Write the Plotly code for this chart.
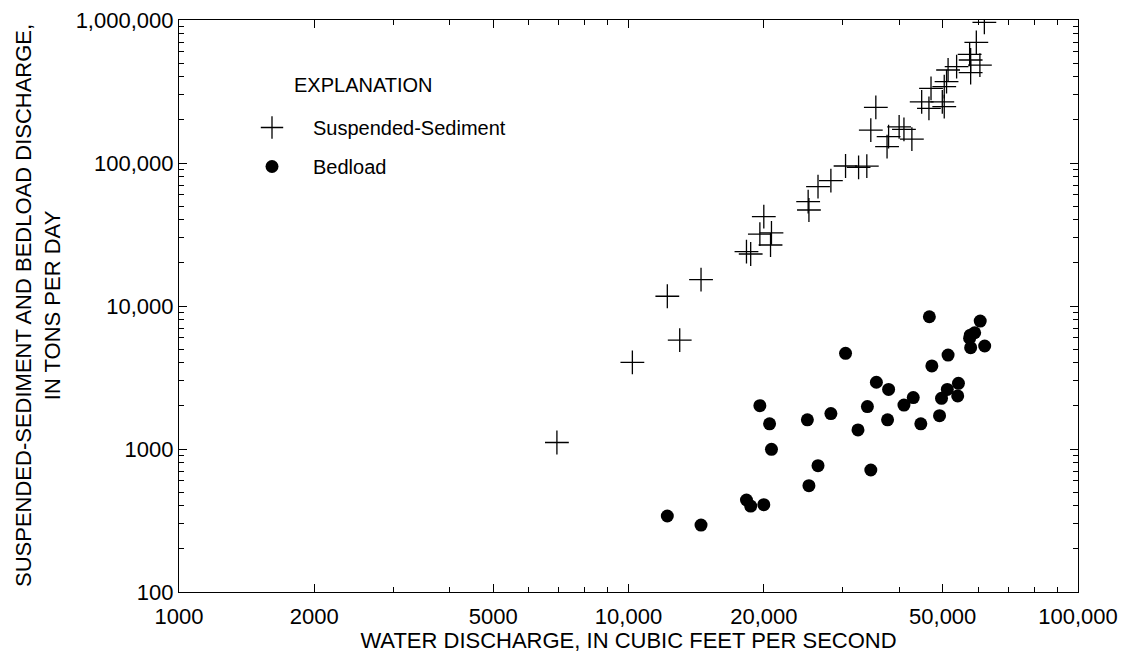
import plotly.graph_objects as go

# Suspended-sediment discharge (water discharge cfs, tons/day)
ss_q = [61900, 59400, 57400, 57700, 60500, 53700, 51400, 57700, 51000, 50400,
        47100, 44900, 46600, 49900, 50400, 35500, 34600, 40000, 41000, 37900,
        37600, 42700, 30400, 32500, 33900, 26400, 28200, 25100, 25200, 20000,
        19600, 20800, 20700, 18300, 18700, 14500, 12200, 13000, 10200, 6930]
ss_load = [964000, 698000, 575000, 525000, 484000, 472000, 447000, 428000, 371000, 342000,
           333000, 268000, 241000, 268000, 248000, 245000, 170000, 179000, 172000, 153000,
           130000, 147000, 95300, 93300, 95000, 68300, 75200, 53700, 46900, 42200,
           31800, 32500, 26700, 24000, 23100, 15300, 11700, 5780, 4040, 1110]

# Bedload discharge
bl_q = [46700, 60600, 58900, 57600, 57400, 57700, 62000, 30400, 51400, 47300,
        35600, 54200, 37900, 51200, 43000, 49700, 54000, 41000, 34000, 19600,
        28200, 25000, 37700, 20600, 44700, 49200, 32400, 20800, 26400, 34600,
        25200, 18300, 18700, 20000, 12200, 14500]
bl_load = [8410, 7850, 6500, 6250, 5950, 5110, 5250, 4670, 4540, 3810,
           2930, 2880, 2610, 2610, 2290, 2260, 2350, 2030, 1980, 2010,
           1770, 1600, 1600, 1500, 1500, 1710, 1360, 995, 765, 713,
           554, 440, 399, 408, 340, 294]

x_tickvals = [1000, 2000, 5000, 10000, 20000, 50000, 100000]
x_ticktext = ["1000", "2000", "5000", "10,000", "20,000", "50,000", "100,000"]
x_minor = [3000, 4000, 6000, 7000, 8000, 9000, 30000, 40000, 60000, 70000, 80000, 90000]
y_tickvals = [100, 1000, 10000, 100000, 1000000]
y_ticktext = ["100", "1000", "10,000", "100,000", "1,000,000"]
y_minor = [m * 10 ** e for e in range(2, 6) for m in range(2, 10)]

FONT = "Liberation Sans, Arial, Helvetica, sans-serif"

fig = go.Figure()
fig.add_trace(go.Scatter(
    x=ss_q, y=ss_load, mode="markers", name="Suspended-Sediment",
    legendgroup="a",
    marker=dict(symbol="cross-thin", size=17, color="black",
                line=dict(color="black", width=1.3)),
))
fig.add_trace(go.Scatter(
    x=bl_q, y=bl_load, mode="markers", name="Bedload",
    legendgroup="b",
    marker=dict(symbol="circle", size=13, color="black", line=dict(width=0)),
))

axis_common = dict(
    showline=True, linecolor="black", linewidth=1.2, mirror="ticks",
    ticks="inside", ticklen=8, tickcolor="black", tickwidth=1,
    showgrid=False, zeroline=False, automargin=False,
    tickfont=dict(family=FONT, size=22, color="black"),
)

fig.update_xaxes(
    type="log", range=[3, 5],
    tickvals=x_tickvals, ticktext=x_ticktext,
    minor=dict(tickvals=x_minor, ticks="inside", ticklen=5, tickcolor="black", showgrid=False),
    ticklabelstandoff=4,
    title=dict(text="WATER DISCHARGE, IN CUBIC FEET PER SECOND",
               font=dict(family=FONT, size=22, color="black"), standoff=4),
    **axis_common,
)
fig.update_yaxes(
    type="log", range=[2, 6],
    tickvals=y_tickvals, ticktext=y_ticktext,
    minor=dict(tickvals=y_minor, ticks="inside", ticklen=5, tickcolor="black", showgrid=False),
    **axis_common,
)

fig.add_annotation(
    text="SUSPENDED-SEDIMENT AND BEDLOAD DISCHARGE,<br>IN TONS PER DAY",
    xref="paper", yref="paper", x=0, y=0.5, xshift=-141,
    xanchor="center", yanchor="middle", textangle=-90, showarrow=False,
    font=dict(family=FONT, size=22, color="black"),
)
fig.add_annotation(
    text="EXPLANATION", xref="paper", yref="paper",
    x=(292 - 179) / 899, y=1 - (85 - 20) / 572,
    xanchor="left", yanchor="middle", showarrow=False,
    font=dict(family=FONT, size=20, color="black"),
)

fig.update_layout(
    width=1123, height=654,
    margin=dict(l=179, r=45, t=20, b=62),
    paper_bgcolor="white", plot_bgcolor="white",
    showlegend=True,
    legend=dict(
        x=(231 - 179) / 899, y=1 - (108 - 20) / 572,
        xanchor="left", yanchor="top",
        font=dict(family=FONT, size=20, color="black"),
        bgcolor="rgba(0,0,0,0)", borderwidth=0,
        itemwidth=72,
        traceorder="grouped", tracegroupgap=10,
    ),
)

fig.write_html(
    "out.html",
    config={"displayModeBar": False},
    post_script="document.body.style.margin='0';document.body.style.overflow='hidden';",
)
